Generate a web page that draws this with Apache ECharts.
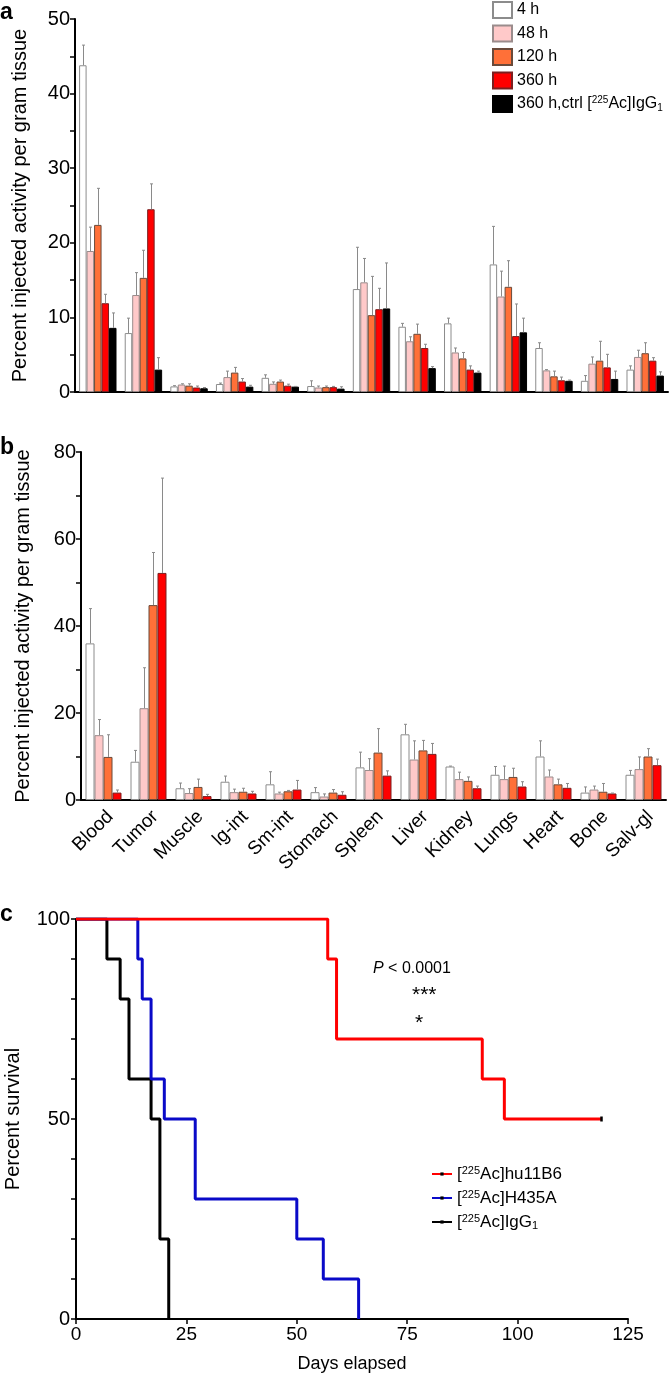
<!DOCTYPE html>
<html><head><meta charset="utf-8">
<script src="https://cdn.jsdelivr.net/npm/echarts@6/dist/echarts.min.js"></script>
<style>html,body{margin:0;padding:0;background:#fff}#c{width:670px;height:1381px}</style>
</head><body><div id="c"></div>
<script>
// ---------- data ----------
const organs = ['Blood','Tumor','Muscle','lg-int','Sm-int','Stomach','Spleen','Liver','Kidney','Lungs','Heart','Bone','Salv-gl'];
const namesA = ['4 h','48 h','120 h','360 h','360 h,ctrl [225Ac]IgG1'];
// panel a means
const a4h   = [43.8, 7.9, 0.75, 1.07, 1.9, 0.8, 13.8, 8.75, 9.2, 17.1, 5.9, 1.5, 3.0];
const a48h  = [18.9, 13.0, 1.0, 2.0, 1.1, 0.6, 14.7, 6.8, 5.3, 12.8, 2.9, 3.8, 4.7];
const a120h = [22.4, 15.3, 0.85, 2.6, 1.4, 0.65, 10.3, 7.8, 4.5, 14.1, 2.1, 4.2, 5.2];
const a360h = [11.9, 24.5, 0.6, 1.4, 0.85, 0.65, 11.1, 5.9, 3.0, 7.5, 1.57, 3.3, 4.2];
const aCtrl = [8.6, 3.0, 0.5, 0.72, 0.72, 0.45, 11.2, 3.2, 2.6, 8.0, 1.5, 1.75, 2.2];
// panel a SD (upper error)
const a4hSd   = [2.7, 2.0, 0.1, 0.13, 0.4, 0.7, 5.6, 0.45, 0.7, 5.1, 0.7, 0.7, 0.5];
const a48hSd  = [3.2, 3.0, 0.1, 0.8, 0.25, 0.2, 3.2, 0.6, 0.6, 3.4, 0.1, 0.9, 0.9];
const a120hSd = [4.9, 3.7, 0.25, 0.7, 0.2, 0.15, 5.2, 1.3, 0.8, 3.5, 0.7, 2.6, 1.4];
const a360hSd = [1.2, 3.4, 0.2, 0.4, 0.2, 0.1, 2.8, 0.5, 0.5, 4.3, 0.43, 1.75, 0.4];
const aCtrlSd = [2.0, 1.6, 0.1, 0.18, 0.03, 0.25, 6.1, 0.2, 0.2, 1.9, 0.1, 1.05, 0.5];
// panel b means
const b4h   = [36.0, 8.8, 2.7, 4.2, 3.6, 1.8, 7.5, 15.1, 7.7, 5.8, 10.0, 1.7, 5.8];
const b48h  = [14.9, 21.1, 1.6, 1.8, 1.5, 0.8, 6.9, 9.3, 4.8, 4.8, 5.4, 2.4, 7.1];
const b120h = [9.9, 44.8, 3.0, 1.9, 2.0, 1.7, 10.9, 11.4, 4.4, 5.3, 3.6, 1.9, 10.0];
const b360h = [1.7, 52.2, 0.9, 1.5, 2.4, 1.2, 5.6, 10.6, 2.7, 3.1, 2.8, 1.5, 8.0];
// panel b SD
const b4hSd   = [8.0, 2.6, 1.2, 1.3, 2.9, 1.05, 3.5, 2.3, 0.1, 1.9, 3.6, 1.3, 1.0];
const b48hSd  = [3.6, 9.3, 1.0, 0.7, 0.3, 0.6, 2.6, 4.3, 1.6, 3.0, 1.5, 0.8, 2.8];
const b120hSd = [5.1, 12.1, 1.8, 0.8, 0.2, 0.7, 5.5, 2.3, 0.9, 2.0, 1.2, 1.9, 1.8];
const b360hSd = [0.6, 21.8, 0.4, 0.5, 2.1, 0.7, 1.1, 2.4, 0.5, 1.1, 1.0, 0.1, 1.4];
// panel c survival (day, percent)
const namesC = ['[225Ac]hu11B6','[225Ac]H435A','[225Ac]IgG1'];
const survHu11B6 = [[0,100],[57,90],[59,70],[92,60],[97,50],[119,50]];
const survH435A  = [[0,100],[14,90],[15,80],[17,60],[20,50],[27,30],[50,20],[56,10],[64,0]];
const survIgG1   = [[0,100],[7,90],[10,80],[12,60],[17,50],[19,20],[21,0]];
const censoredDay = 119;
// tick labels
const yTicksA = [0,10,20,30,40,50];
const yTicksB = [0,20,40,60,80];
const yTicksC = [0,50,100];
const xTicksC = [0,25,50,75,100,125];

// ---------- styles ----------
const FONT = 'Liberation Sans, Arial, Helvetica, sans-serif';
const fills   = ['#ffffff','#ffc9c9','#ff7038','#ff0000','#000000'];
const borders = ['#8c8c8c','#9a8c8c','#6a4a3a','#7a2020','#000000'];
const gapA = 0.18, gapB = 0.20;

function mkRich(fs, ss){
  return {
    sup:{fontSize:ss, verticalAlign:'top', lineHeight:ss, fontFamily:FONT, color:'#000'},
    sub:{fontSize:ss, verticalAlign:'bottom', lineHeight:ss, fontFamily:FONT, color:'#000'},
    n:{fontSize:fs, fontFamily:FONT, color:'#000', lineHeight:18}
  };
}
function richName(name){
  return name.replace(/\[225Ac\]/,'{n|[}{sup|225}{n|Ac]}').replace(/IgG1$/,'{n|IgG}{sub|1}')
    .replace(/^([^{]+)/,'{n|$1}').replace(/\}([^{}]+)$/,'}{n|$1}');
}

function errSeries(g, means, sds, k, n, gap){
  return {
    type:'custom', xAxisIndex:g, yAxisIndex:g, silent:true, z:5,
    data: means.map((m,i)=>[i, m, m+sds[i]]),
    renderItem:(params, api)=>{
      const i = api.value(0);
      const p0 = api.coord([i, api.value(1)]);
      const p1 = api.coord([i, api.value(2)]);
      const band = api.size([1,0])[0];
      const bw = band*(1-gap)/n;
      const x = Math.round(p0[0] + (k-(n-1)/2)*bw) + 0.5;
      return {type:'group', children:[
        {type:'line', shape:{x1:x,y1:p0[1],x2:x,y2:p1[1]}, style:{stroke:'#8a8a8a', lineWidth:1}},
        {type:'line', shape:{x1:x-1.5,y1:p1[1],x2:x+1.5,y2:p1[1]}, style:{stroke:'#8a8a8a', lineWidth:1}}
      ]};
    }
  };
}
function barSeries(g, name, data, k, gap){
  return {type:'bar', name, xAxisIndex:g, yAxisIndex:g, data, barGap:'0%', barCategoryGap:(gap*100)+'%',
    itemStyle:{color:fills[k], borderColor:borders[k], borderWidth:1}, silent:true};
}

const meansA = [a4h,a48h,a120h,a360h,aCtrl];
const sdsA = [a4hSd,a48hSd,a120hSd,a360hSd,aCtrlSd];
const meansB = [b4h,b48h,b120h,b360h];
const sdsB = [b4hSd,b48hSd,b120hSd,b360hSd];

const series = [];
meansA.forEach((d,k)=>series.push(barSeries(0, namesA[k], d, k, gapA)));
meansB.forEach((d,k)=>series.push(barSeries(1, namesA[k], d, k, gapB)));
meansA.forEach((d,k)=>series.push(errSeries(0, d, sdsA[k], k, 5, gapA)));
meansB.forEach((d,k)=>series.push(errSeries(1, d, sdsB[k], k, 4, gapB)));

const survColors = ['#ff0000','#0a0ac8','#000000'];
[survHu11B6, survH435A, survIgG1].forEach((d,k)=>{
  series.push({type:'line', name:namesC[k], xAxisIndex:2, yAxisIndex:2, step:'end',
    data: d.map(p=>({value:p, symbolSize:(k===0 && p[0]===censoredDay)?[2.5,5]:0})),
    symbol:'rect', symbolSize:[2.5,5], showSymbol:true, silent:true,
    itemStyle:{color:'#000'}, lineStyle:{color:survColors[k], width:3}, z:10-k});
});

const axisTxt = {color:'#000', fontFamily:FONT, fontSize:20};
function yAxis(g, max, interval, ticks, name, gap, margin){
  return {type:'value', gridIndex:g, min:0, max, interval,
    name, nameLocation:'middle', nameGap:gap, nameTextStyle:{color:'#000', fontFamily:FONT, fontSize:20},
    axisLine:{show:true, lineStyle:{color:'#000', width:2}},
    axisTick:{show:true, length:5, lineStyle:{color:'#000', width:1.5}},
    axisLabel:Object.assign({margin, formatter:v=>ticks.includes(v)?String(v):''}, axisTxt),
    splitLine:{show:false}};
}

const option = {
  animation:false,
  backgroundColor:'#fff',
  grid:[
    {left:75, right:2, top:19, bottom:989, outerBoundsMode:'none', containLabel:false},
    {left:81, right:4, top:452, bottom:581, outerBoundsMode:'none', containLabel:false},
    {left:76, right:42, top:919, bottom:62, outerBoundsMode:'none', containLabel:false}
  ],
  xAxis:[
    {type:'category', gridIndex:0, data:organs, axisLine:{lineStyle:{color:'#000', width:2}},
      axisTick:{alignWithLabel:true, length:5, lineStyle:{color:'#000', width:1.5}}, axisLabel:{show:false}},
    {type:'category', gridIndex:1, data:organs, axisLine:{lineStyle:{color:'#000', width:2}},
      axisTick:{alignWithLabel:true, length:5, lineStyle:{color:'#000', width:1.5}},
      axisLabel:{rotate:45, interval:0, margin:7, verticalAlign:'top', color:'#000', fontFamily:FONT, fontSize:19}},
    {type:'value', gridIndex:2, min:0, max:125, interval:25,
      name:'Days elapsed', nameLocation:'middle', nameGap:36, nameTextStyle:{color:'#000', fontFamily:FONT, fontSize:18},
      axisLine:{show:true, lineStyle:{color:'#000', width:2}},
      axisTick:{show:true, length:5, lineStyle:{color:'#000', width:1.5}},
      axisLabel:Object.assign({margin:6, formatter:v=>xTicksC.includes(v)?String(v):''}, axisTxt, {fontSize:19}),
      splitLine:{show:false}}
  ],
  yAxis:[
    yAxis(0, 50, 5, yTicksA, 'Percent injected activity per gram tissue', 45, 5),
    yAxis(1, 80, 10, yTicksB, 'Percent injected activity per gram tissue', 48, 5),
    yAxis(2, 100, 10, yTicksC, 'Percent survival', 53, 6)
  ],
  legend:[
    {data:namesA, orient:'vertical', left:492, top:1, padding:0, itemWidth:19, itemHeight:16, itemGap:5.5,
      icon:'rect', selectedMode:false, formatter:n=>richName(n),
      textStyle:{fontSize:16, fontFamily:FONT, color:'#000', rich:mkRich(16,10)}},
    {data:namesC, orient:'vertical', left:431, top:1165, padding:0, itemWidth:20, itemHeight:4, itemGap:6.5,
      selectedMode:false, formatter:n=>richName(n),
      textStyle:{fontSize:17, fontFamily:FONT, color:'#000', rich:mkRich(17,11)}}
  ],
  graphic:[
    {type:'text', left:0, top:1, style:{text:'a', font:'bold 23px '+FONT, fill:'#000'}},
    {type:'text', left:0, top:436, style:{text:'b', font:'bold 23px '+FONT, fill:'#000'}},
    {type:'text', left:0, top:903, style:{text:'c', font:'bold 23px '+FONT, fill:'#000'}},
    {type:'text', left:373, top:961, style:{text:'{i|P} < 0.0001', font:'16px '+FONT, fill:'#000',
      rich:{i:{fontStyle:'italic', fontSize:16, fontFamily:FONT, fill:'#000'}}}},
    {type:'text', left:412, top:985, style:{text:'***', font:'21px '+FONT, fill:'#000'}},
    {type:'text', left:415, top:1013, style:{text:'*', font:'21px '+FONT, fill:'#000'}}
  ],
  series
};
const chart = echarts.init(document.getElementById('c'), null, {renderer:'canvas'});
chart.setOption(option);
</script></body></html>
